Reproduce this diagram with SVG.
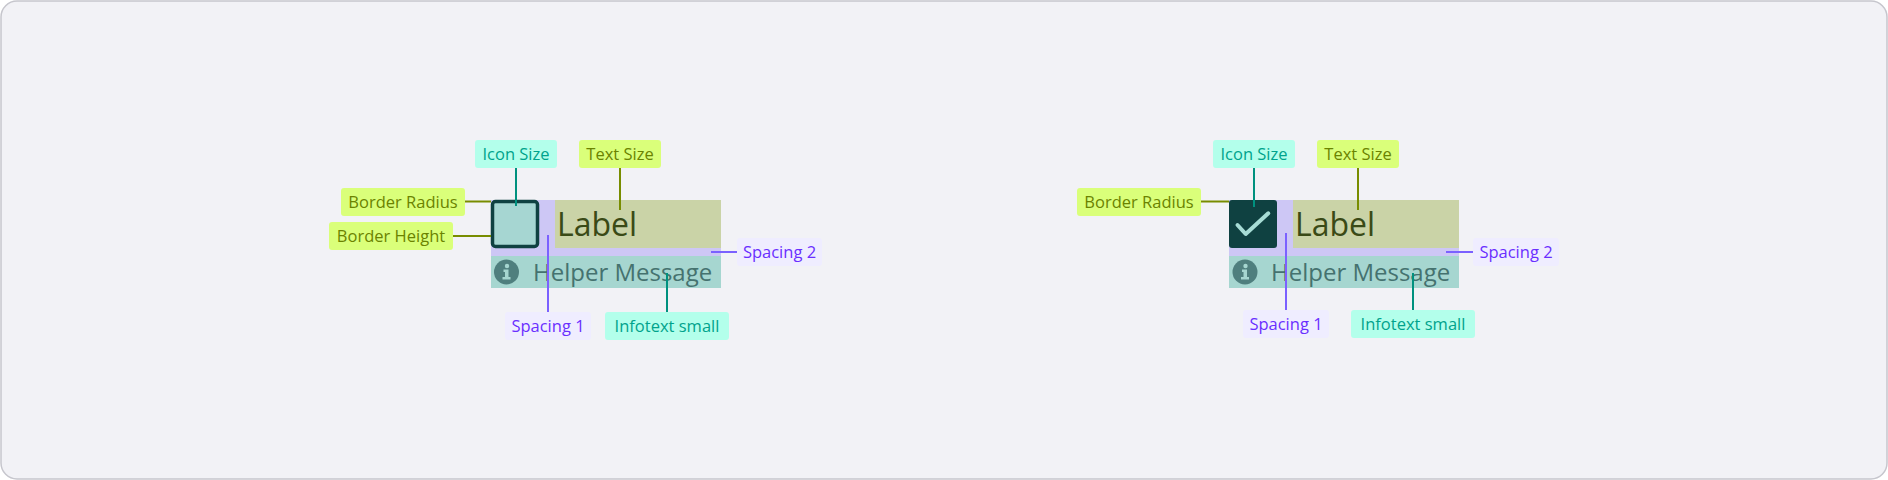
<svg xmlns="http://www.w3.org/2000/svg" width="1888" height="480" viewBox="0 0 1888 480">
<style>
text{font-family:"Open Sans","Noto Sans","Liberation Sans",sans-serif}
.b{font-size:16.5px;font-weight:500;text-anchor:middle}
.olive rect{fill:#daff7a}.olive text{fill:#6b8300}
.teal rect{fill:#b3ffeb}.teal text{fill:#00a38c}
.purple rect{fill:#efedff}.purple text{fill:#6a2fff}
.lo{stroke:#788c00;stroke-width:2;fill:none}
.lt{stroke:#00917f;stroke-width:2;fill:none}
.lp{stroke:#7b61ff;stroke-width:2;fill:none}
.lab{font-size:32px;fill:#3a4a16}
.help{font-size:24px;fill:#45726f}
</style>
<defs>
<g id="info">
<circle cx="0" cy="0" r="12.5" fill="#4f7f7e"/>
<circle cx="0.5" cy="-6" r="2.2" fill="#a6d6d0"/>
<path d="M-3,-2.5 H2 V5 H4 V7.5 H-4 V5 H-1.5 V0 H-3 Z" fill="#a6d6d0"/>
</g>
</defs>
<rect x="1" y="1" width="1886" height="478" rx="16" fill="#f2f2f6" stroke="#c6c6cd" stroke-width="1.5"/>

<g id="checkbox-unchecked">
<rect x="491" y="200" width="230" height="88" fill="#cdc7f5"/>
<rect x="555" y="200" width="166" height="48" fill="#cad3a7"/>
<rect x="491" y="256" width="230" height="32" fill="#a6d6d0"/>
<rect x="492.5" y="201.5" width="45" height="45" rx="3" fill="#a6d6d2" stroke="#0f4141" stroke-width="3.5"/>
<text class="lab" x="557" y="236">Label</text>
<use href="#info" x="506.5" y="272"/>
<text class="help" x="533" y="281">Helper Message</text>
</g>

<g id="checkbox-checked">
<rect x="1229" y="200" width="230" height="88" fill="#cdc7f5"/>
<rect x="1293" y="200" width="166" height="48" fill="#cad3a7"/>
<rect x="1229" y="256" width="230" height="32" fill="#a6d6d0"/>
<rect x="1229" y="200" width="48" height="48" rx="3" fill="#0f4141"/>
<path d="M1237.5,225 L1245.7,234 L1268.3,213.3" fill="none" stroke="#a6dcd5" stroke-width="4" stroke-linecap="round" stroke-linejoin="round"/>
<text class="lab" x="1295" y="236">Label</text>
<use href="#info" x="1245" y="272"/>
<text class="help" x="1271" y="281">Helper Message</text>
</g>

<g id="connectors">
<line class="lt" x1="516" y1="168" x2="516" y2="206"/>
<line class="lo" x1="620" y1="168" x2="620" y2="210"/>
<line class="lo" x1="465" y1="201.5" x2="491" y2="201.5"/>
<line class="lo" x1="453" y1="236" x2="491" y2="236"/>
<line class="lp" x1="711" y1="252" x2="737" y2="252"/>
<line class="lp" x1="548" y1="235" x2="548" y2="312"/>
<line class="lt" x1="667" y1="273" x2="667" y2="312"/>

<line class="lt" x1="1254" y1="168" x2="1254" y2="207"/>
<line class="lo" x1="1358" y1="168" x2="1358" y2="210"/>
<line class="lo" x1="1201" y1="201.5" x2="1229" y2="201.5"/>
<line class="lp" x1="1446" y1="252" x2="1473" y2="252"/>
<line class="lp" x1="1286" y1="233" x2="1286" y2="310"/>
<line class="lt" x1="1413" y1="273" x2="1413" y2="310"/>
</g>

<g id="l-icon-size" class="teal"><rect x="475" y="140" width="82" height="28" rx="3"/><text class="b" x="516" y="159.5">Icon Size</text></g>
<g id="l-text-size" class="olive"><rect x="579" y="140" width="82" height="28" rx="3"/><text class="b" x="620" y="159.5">Text Size</text></g>
<g id="l-border-radius" class="olive"><rect x="341" y="188" width="124" height="28" rx="3"/><text class="b" x="403" y="207.5">Border Radius</text></g>
<g id="l-border-height" class="olive"><rect x="329" y="222" width="124" height="28" rx="3"/><text class="b" x="391" y="241.5">Border Height</text></g>
<g id="l-spacing-2" class="purple"><rect x="737" y="238" width="85" height="28" rx="3"/><text class="b" x="779.5" y="257.5">Spacing 2</text></g>
<g id="l-spacing-1" class="purple"><rect x="505" y="312" width="86" height="28" rx="3"/><text class="b" x="548" y="331.5">Spacing 1</text></g>
<g id="l-infotext" class="teal"><rect x="605" y="312" width="124" height="28" rx="3"/><text class="b" x="667" y="331.5">Infotext small</text></g>

<g id="r-icon-size" class="teal"><rect x="1213" y="140" width="82" height="28" rx="3"/><text class="b" x="1254" y="159.5">Icon Size</text></g>
<g id="r-text-size" class="olive"><rect x="1317" y="140" width="82" height="28" rx="3"/><text class="b" x="1358" y="159.5">Text Size</text></g>
<g id="r-border-radius" class="olive"><rect x="1077" y="188" width="124" height="28" rx="3"/><text class="b" x="1139" y="207.5">Border Radius</text></g>
<g id="r-spacing-2" class="purple"><rect x="1473" y="238" width="86" height="28" rx="3"/><text class="b" x="1516" y="257.5">Spacing 2</text></g>
<g id="r-spacing-1" class="purple"><rect x="1243" y="310" width="86" height="28" rx="3"/><text class="b" x="1286" y="329.5">Spacing 1</text></g>
<g id="r-infotext" class="teal"><rect x="1351" y="310" width="124" height="28" rx="3"/><text class="b" x="1413" y="329.5">Infotext small</text></g>
</svg>
